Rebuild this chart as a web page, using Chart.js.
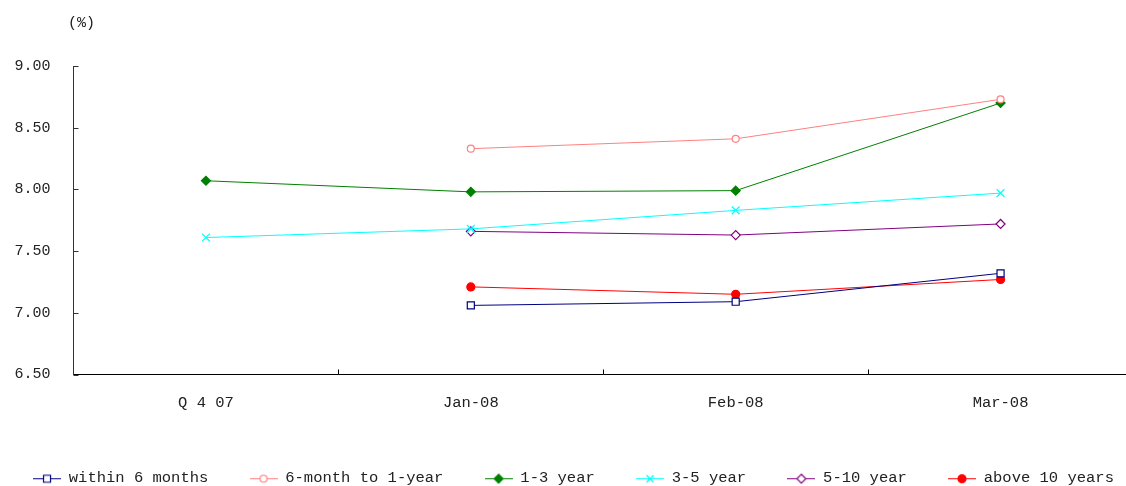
<!DOCTYPE html>
<html>
<head>
<meta charset="utf-8">
<script src="https://cdn.jsdelivr.net/npm/chart.js@4/dist/chart.umd.min.js"></script>
<style>
  html, body { margin: 0; padding: 0; background: #fff; overflow: hidden; width: 1126px; height: 486px; }
  #wrap { position: relative; width: 1140px; height: 496px; }
</style>
</head>
<body>
<div id="wrap"><canvas id="c" width="1140" height="496"></canvas></div>
<script>
// Categories and yields (%) by remaining maturity
const categories = ['Q 4 07', 'Jan-08', 'Feb-08', 'Mar-08'];
const within6Months = [null, 7.06, 7.09, 7.32];
const month6To1Year = [null, 8.33, 8.41, 8.73];
const year1To3 = [8.07, 7.98, 7.99, 8.70];
const year3To5 = [7.61, 7.68, 7.83, 7.97];
const year5To10 = [null, 7.66, 7.63, 7.72];
const above10Years = [null, 7.21, 7.15, 7.27];
const yTicks = [6.5, 7.0, 7.5, 8.0, 8.5, 9.0];

const FONT = 'Liberation Mono, DejaVu Sans Mono, monospace';
const TEXT = '#222';

const series = [
  { label: 'within 6 months', data: within6Months, color: '#000080', style: 'rect', radius: 5, fill: '#ffffff' },
  { label: '6-month to 1-year', data: month6To1Year, color: '#FF8080', style: 'circle', radius: 3.5, fill: '#ffffff' },
  { label: '1-3 year', data: year1To3, color: '#008000', style: 'rectRot', radius: 4.5, fill: '#008000' },
  { label: '3-5 year', data: year3To5, color: '#00FFFF', style: 'crossRot', radius: 5.5, fill: '#00FFFF' },
  { label: '5-10 year', data: year5To10, color: '#800080', style: 'rectRot', radius: 4.5, fill: '#ffffff' },
  { label: 'above 10 years', data: above10Years, color: '#FF0000', style: 'circle', radius: 4, fill: '#FF0000' }
];

// Small line-with-marker swatch used as the legend symbol
function swatch(s) {
  const cv = document.createElement('canvas');
  cv.width = 28; cv.height = 12;
  const g = cv.getContext('2d');
  g.strokeStyle = s.color; g.lineWidth = 1;
  g.beginPath(); g.moveTo(0, 6.5); g.lineTo(28, 6.5); g.stroke();
  const x = 14, y = 6.5;
  g.fillStyle = s.fill; g.lineWidth = 1.2;
  g.beginPath();
  if (s.style === 'rect') {
    g.rect(x - 3.5, y - 3.5, 7, 7); g.fill(); g.stroke();
  } else if (s.style === 'circle') {
    g.arc(x, y, s.radius, 0, Math.PI * 2); g.fill(); g.stroke();
  } else if (s.style === 'rectRot') {
    const r = s.radius;
    g.moveTo(x, y - r); g.lineTo(x + r, y); g.lineTo(x, y + r); g.lineTo(x - r, y); g.closePath();
    g.fill(); g.stroke();
  } else if (s.style === 'crossRot') {
    const r = 3.5;
    g.moveTo(x - r, y - r); g.lineTo(x + r, y + r);
    g.moveTo(x + r, y - r); g.lineTo(x - r, y + r); g.stroke();
  }
  return cv;
}
const swatches = series.map(swatch);

// Inward tick marks on both axes plus the unit label
const axisDecor = {
  id: 'axisDecor',
  afterDraw(chart) {
    const { ctx, chartArea, scales } = chart;
    ctx.save();
    ctx.lineWidth = 1;
    ctx.strokeStyle = '#333';
    const y = scales.y;
    y.ticks.forEach(t => {
      const py = Math.round(y.getPixelForValue(t.value)) + 0.5;
      ctx.beginPath(); ctx.moveTo(chartArea.left, py); ctx.lineTo(chartArea.left + 5, py); ctx.stroke();
    });
    const x = scales.x;
    ctx.strokeStyle = '#000';
    for (let i = 0; i < categories.length - 1; i++) {
      const px = Math.round((x.getPixelForValue(i) + x.getPixelForValue(i + 1)) / 2) + 0.5;
      ctx.beginPath(); ctx.moveTo(px, chartArea.bottom); ctx.lineTo(px, chartArea.bottom - 5); ctx.stroke();
    }
    ctx.fillStyle = TEXT;
    ctx.font = '15px ' + FONT;
    ctx.textAlign = 'center';
    ctx.textBaseline = 'middle';
    ctx.fillText('(%)', chartArea.left + 8, 23);
    ctx.restore();
  }
};

new Chart(document.getElementById('c'), {
  type: 'line',
  data: {
    labels: categories,
    datasets: series.map(s => ({
      label: s.label,
      data: s.data,
      borderColor: s.color,
      backgroundColor: s.fill,
      borderWidth: 1,
      tension: 0,
      pointStyle: s.style,
      pointRadius: s.radius,
      pointHoverRadius: s.radius,
      pointBorderWidth: 1.2,
      pointBorderColor: s.color,
      pointBackgroundColor: s.fill,
      fill: false
    }))
  },
  options: {
    responsive: false,
    animation: false,
    layout: { padding: { left: 14, right: 7, top: 66, bottom: 0 } },
    plugins: {
      tooltip: { enabled: false },
      legend: {
        position: 'bottom',
        labels: {
          usePointStyle: true,
          pointStyleWidth: 28,
          padding: 4,
          color: TEXT,
          font: { family: FONT, size: 15.5 },
          generateLabels(chart) {
            return chart.data.datasets.map((ds, i) => ({
              text: ds.label + (i < chart.data.datasets.length - 1 ? '    ' : ''),
              pointStyle: swatches[i],
              fillStyle: ds.backgroundColor,
              strokeStyle: ds.borderColor,
              lineWidth: 0,
              hidden: false,
              datasetIndex: i,
              fontColor: TEXT
            }));
          }
        }
      }
    },
    scales: {
      x: {
        offset: true,
        grid: { display: true, drawOnChartArea: false, drawTicks: false, offset: true },
        border: { display: true, color: '#000', width: 1 },
        ticks: { color: TEXT, font: { family: FONT, size: 15.5 }, padding: 19, maxRotation: 0 },
        afterFit(scale) { scale.height = 92; }
      },
      y: {
        min: 6.5,
        max: 9,
        afterBuildTicks(scale) { scale.ticks = yTicks.map(v => ({ value: v })); },
        grid: { display: true, drawOnChartArea: false, drawTicks: false },
        border: { display: true, color: '#333', width: 1 },
        ticks: {
          color: TEXT,
          font: { family: FONT, size: 15 },
          padding: 23,
          callback: v => v.toFixed(2)
        },
        afterFit(scale) { scale.width = 59.5; }
      }
    }
  },
  plugins: [axisDecor]
});
</script>
</body>
</html>
